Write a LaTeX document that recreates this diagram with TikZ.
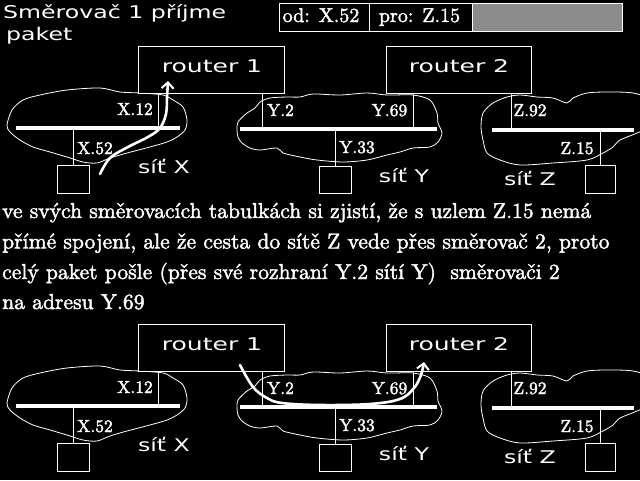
\documentclass[tikz,border=0pt]{standalone}
\usepackage{fontspec}
\newfontfamily\pixfont[FakeStretch=1.35]{DejaVu Sans}
\newfontfamily\cmbfont[FakeBold=2]{lmroman10-regular.otf}
\usetikzlibrary{arrows.meta}
\newcommand\drawpanel{%
  % clouds
  \draw[cloudline] plot[smooth cycle,tension=0.5] coordinates {(7,125) (12,110) (23,100) (40,95) (67,90) (100,88) (120,92) (140,93) (163,95) (173,100) (183,107) (187,120) (185,130) (177,137) (167,142) (150,147) (127,153) (110,158) (97,163) (83,162) (67,157) (50,152) (33,147) (20,140) (10,132)};
  \draw[cloudline] plot[smooth cycle,tension=0.5] coordinates {(237,130) (238,122) (247,113) (255,108) (260,102) (270,98) (287,97) (300,97) (313,94) (340,95) (367,93) (387,95) (413,95) (430,100) (437,113) (438,123) (442,133) (438,142) (430,147) (413,148) (400,152) (387,155) (367,160) (343,162) (317,160) (300,157) (283,153) (277,148) (260,150) (250,148) (242,143) (238,137)};
  \draw[cloudline] plot[smooth cycle,tension=0.5] coordinates {(481,127) (483,113) (493,103) (507,97) (520,95) (537,97) (553,98) (567,103) (573,98) (587,93) (607,92) (633,93) (648,100) (650,125) (637,133) (620,140) (613,147) (603,153) (587,160) (553,163) (520,165) (500,160) (487,153) (483,140)};
  % buses
  \coordinate (xl) at (16,128); \coordinate (xr) at (180,128);
  \coordinate (yl) at (240,129); \coordinate (yr) at (437,129);
  \coordinate (zl) at (492,130); \coordinate (zr) at (634,130);
  \draw[bus] (xl) -- (xr);
  \draw[bus] (yl) -- (yr);
  \draw[bus] (zl) -- (zr);
  % routers and hosts
  \node[boxn,minimum width=146pt,minimum height=47pt] (r1) at (211,69.5) {};
  \node[boxn,minimum width=145pt,minimum height=47pt] (r2) at (458.5,69.5) {};
  \node[boxn,minimum width=32pt,minimum height=28pt] (hx) at (73,179) {};
  \node[boxn,minimum width=32pt,minimum height=27pt] (hy) at (335,179.5) {};
  \node[boxn,minimum width=30pt,minimum height=28pt] (hz) at (600,179) {};
  \node[pix,anchor=base,xscale=1.06] (r1t) at (212,72) {router 1};
  \node[pix,anchor=base,xscale=1.06] (r2t) at (459,72) {router 2};
  % stubs
  \coordinate (x12) at (158,128);
  \coordinate (y2) at (262,129);
  \coordinate (y69) at (413,129);
  \coordinate (z92) at (511,130);
  \draw[stub] (x12 |- r1.south) -- (x12);
  \draw[stub] (hx.north) -- (hx.north |- xl);
  \draw[stub] (y2 |- r1.south) -- (y2);
  \draw[stub] (y69 |- r2.south) -- (y69);
  \draw[stub] (hy.north) -- (hy.north |- yl);
  \draw[stub] (z92 |- r2.south) -- (z92);
  \draw[stub] (hz.north) -- (hz.north |- zl);
  % address labels
  \node[lab] (lx12) at (135,115) {X.12};
  \node[lab] (lx52) at (95,154) {X.52};
  \node[lab] (ly2) at (280.5,116) {Y.2};
  \node[lab] (ly69) at (389.5,116) {Y.69};
  \node[lab] (ly33) at (357,153) {Y.33};
  \node[lab] (lz92) at (530,116) {Z.92};
  \node[lab] (lz15) at (577,154) {Z.15};
  % network names
  \node[pix,anchor=base] (nx) at (164,173) {síť X};
  \node[pix,anchor=base] (ny) at (404,182) {síť Y};
  \node[pix,anchor=base] (nz) at (530,185) {síť Z};
}
\begin{document}
\begin{tikzpicture}[x=1pt,y=-1pt,
  cloudline/.style={draw=white,line width=0.8pt},
  bus/.style={draw=white,line width=3.3pt},
  stub/.style={draw=white,line width=0.9pt},
  boxn/.style={draw=white,fill=black,line width=1pt,inner sep=0pt},
  pix/.style={text=white,inner sep=0pt,font=\pixfont\fontsize{17.5}{21}\selectfont},
  lab/.style={text=white,inner sep=0pt,anchor=base,font=\cmbfont\fontsize{17.5}{20}\selectfont},
  hdr/.style={text=white,inner sep=0pt,anchor=base,font=\cmbfont\fontsize{20}{24}\selectfont},
  para/.style={text=white,inner sep=0pt,anchor=base west,font=\cmbfont\fontsize{21.6}{30}\selectfont},
  arr/.style={draw=white,line width=2.6pt,line cap=round,-{Straight Barb[length=6pt,width=12pt,line width=2pt]}},
]
\fill[black] (0,0) rectangle (640,480);
\useasboundingbox (0,0) rectangle (640,480);
% title
\node[pix,anchor=base west] (title1) at (3,18.5) {Směrovač 1 příjme};
\node[pix,anchor=base west] (title2) at (6,40) {paket};
% header
\node[boxn,minimum width=90pt,minimum height=28pt] (hod) at (324,17) {};
\node[boxn,minimum width=103pt,minimum height=28pt] (hpro) at (420.5,17) {};
\node[boxn,fill=white!55!black,minimum width=150pt,minimum height=28pt] (hpat) at (547,17) {};
\node[hdr] (hodt) at (321,22) {od: X.52};
\node[hdr] (hprot) at (419.5,22) {pro: Z.15};
% top panel
\begin{scope}[name prefix=t-]
\drawpanel
\coordinate (a0) at (100,174);
\coordinate (a1) at (110,158);
\coordinate (a2) at (128,147);
\coordinate (a3) at (148,137);
\coordinate (a4) at (160,128);
\coordinate (a5) at (166,114);
\coordinate (a6) at (167,98);
\coordinate (a7) at (168,81);
\draw[arr] plot[smooth,tension=0.6] coordinates {(a0) (a1) (a2) (a3) (a4) (a5) (a6) (a7)};
\end{scope}
% text
\node[para] (p1) at (2,218) {ve svých směrovacích tabulkách si zjistí, že s uzlem Z.15 nemá};
\node[para] (p2) at (2,248.5) {přímé spojení, ale že cesta do sítě Z vede přes směrovač 2, proto};
\node[para] (p3) at (2,279) {celý paket pošle (přes své rozhraní Y.2 sítí Y)\ \ směrovači 2};
\node[para] (p4) at (2,309) {na adresu Y.69};
% bottom panel
\begin{scope}[name prefix=b-,yshift=-278pt]
\drawpanel
\coordinate (c0) at (240,87);
\coordinate (c1) at (253,109);
\coordinate (c2) at (267,120);
\coordinate (c3) at (282,125);
\coordinate (c4) at (320,127);
\coordinate (c5) at (370,126);
\coordinate (c6) at (400,121);
\coordinate (c7) at (414,110);
\coordinate (c8) at (421,97);
\coordinate (c9) at (424,84);
\draw[arr] plot[smooth,tension=0.6] coordinates {(c0) (c1) (c2) (c3) (c4) (c5) (c6) (c7) (c8) (c9)};
\end{scope}
\end{tikzpicture}
\end{document}
